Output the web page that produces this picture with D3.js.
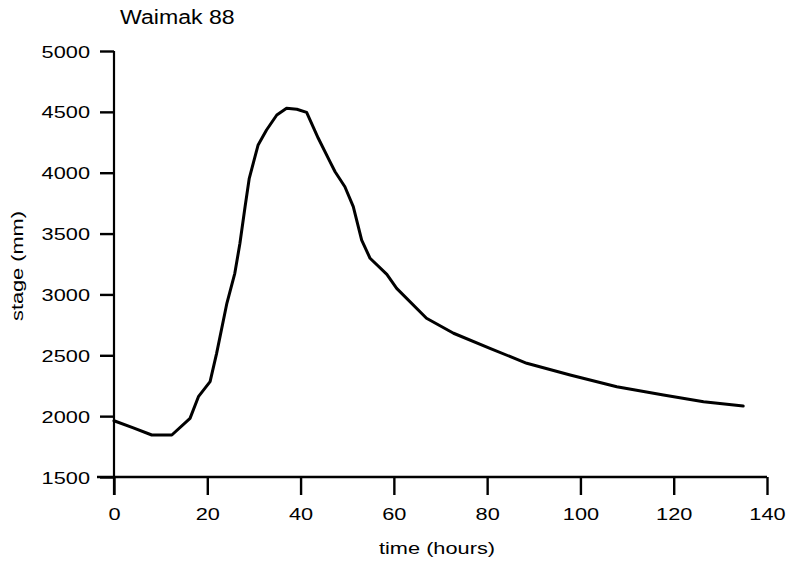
<!DOCTYPE html>
<html><head><meta charset="utf-8">
<script src="https://cdn.jsdelivr.net/npm/d3@7"></script>
<style>body{margin:0;background:#fff}svg{display:block}text{font-family:"Liberation Sans",Arial,sans-serif;fill:#000}</style>
</head><body>
<script>
const title = "Waimak 88";
const xLabel = "time (hours)";
const yLabel = "stage (mm)";
const xTicks = [0, 20, 40, 60, 80, 100, 120, 140];
const yTicks = [1500, 2000, 2500, 3000, 3500, 4000, 4500, 5000];
const hours = [0, 4, 8.1, 12.4, 16.3, 18.1, 20.6, 22.0, 24.2, 25.9, 27.0, 28.1, 29.0, 30.9, 32.7, 34.9, 37.0, 39.2, 41.3, 43.8, 46.3, 47.4, 49.5, 51.3, 53.1, 54.9, 58.5, 60.6, 67.0, 72.8, 80.6, 88.5, 97.8, 107.8, 117.8, 126.4, 134.9];
const stage = [1962, 1905, 1845, 1845, 1982, 2160, 2283, 2516, 2927, 3173, 3420, 3721, 3954, 4228, 4351, 4474, 4529, 4521, 4496, 4283, 4091, 4008, 3885, 3721, 3447, 3297, 3165, 3050, 2804, 2681, 2557, 2434, 2338, 2242, 2174, 2119, 2083];

const W = 791, H = 562, SX = 1.28;
const svg = d3.select("body").append("svg").attr("width", W).attr("height", H);
const x = d3.scaleLinear().domain([0, 140]).range([114, 767]);
const y = d3.scaleLinear().domain([1500, 5000]).range([477, 51]);

// y axis
const gy = svg.append("g").attr("transform", `translate(${x(0)},0)`)
  .call(d3.axisLeft(y).tickValues(yTicks).tickFormat(d3.format("d")).tickSize(14).tickSizeOuter(0).tickPadding(10));
gy.select(".domain").remove();
gy.selectAll(".tick line").attr("stroke", "#000").attr("stroke-width", 2.4);
gy.selectAll(".tick text").attr("font-size", 17).attr("dy", "0.36em").attr("fill", "#000")
  .attr("x", -24 / SX).attr("transform", `scale(${SX},1)`);
gy.append("line").attr("x1", 0).attr("x2", 0).attr("y1", y(5000)).attr("y2", y(1500) + 18)
  .attr("stroke", "#000").attr("stroke-width", 2.2);

// x axis
const gx = svg.append("g").attr("transform", `translate(0,${y(1500)})`)
  .call(d3.axisBottom(x).tickValues(xTicks).tickFormat(d3.format("d")).tickSize(18).tickSizeOuter(0));
gx.select(".domain").remove();
gx.selectAll(".tick line").attr("stroke", "#000").attr("stroke-width", 2.4);
gx.selectAll(".tick text").attr("font-size", 17).attr("dy", 0).attr("y", 43).attr("fill", "#000")
  .attr("transform", `scale(${SX},1)`);
gx.append("line").attr("x1", x(0) - 17).attr("x2", x(140)).attr("y1", 0).attr("y2", 0)
  .attr("stroke", "#000").attr("stroke-width", 2.4);

// line
const line = d3.line().x((d, i) => x(hours[i])).y(d => y(d)).curve(d3.curveLinear);
svg.append("path").attr("d", line(stage)).attr("fill", "none").attr("stroke", "#000")
  .attr("stroke-width", 3).attr("stroke-linejoin", "round").attr("stroke-linecap", "round");

// title
svg.append("text").attr("transform", `translate(120,24) scale(1.1,1)`)
  .attr("font-size", 21).text(title);
// x label
svg.append("text").attr("transform", `translate(437,554) scale(${SX},1)`)
  .attr("text-anchor", "middle").attr("font-size", 17).text(xLabel);
// y label
svg.append("text").attr("transform", `translate(23,266) rotate(-90) scale(${SX},1)`)
  .attr("text-anchor", "middle").attr("font-size", 17).text(yLabel);
</script>
</body></html>
